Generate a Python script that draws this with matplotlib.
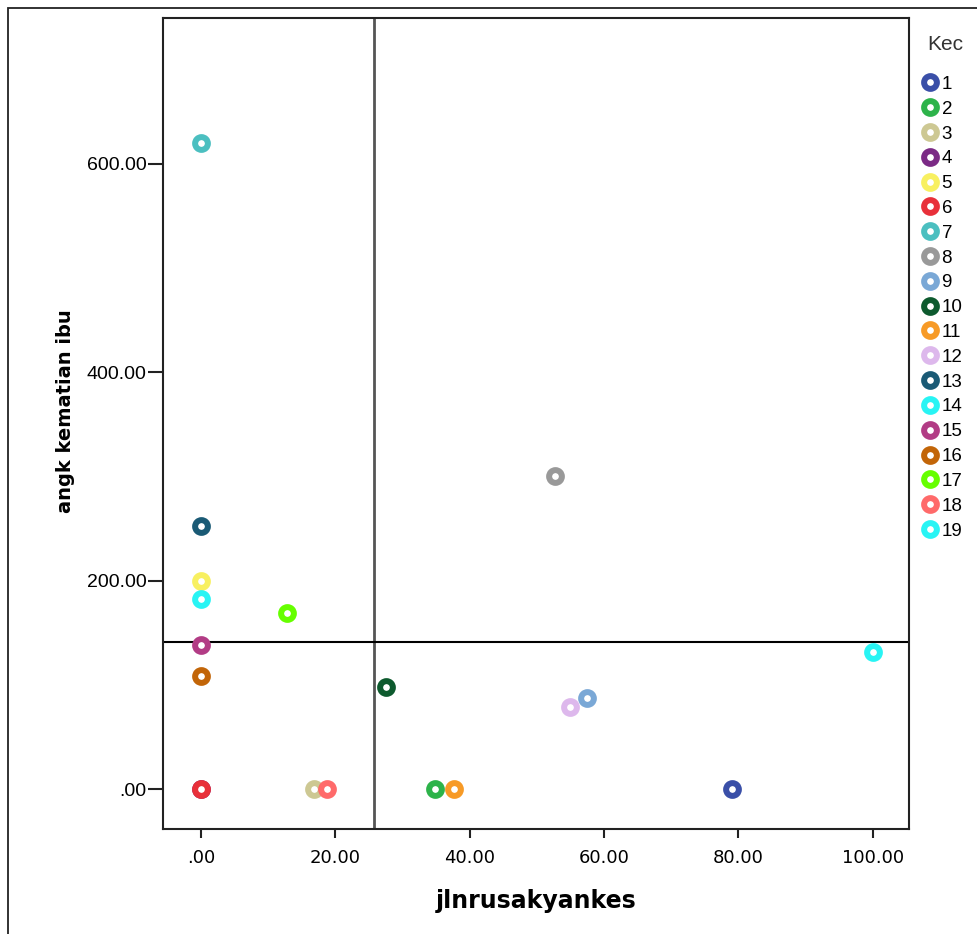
import matplotlib.pyplot as plt
from matplotlib.lines import Line2D
from matplotlib.patches import Rectangle

kec = [str(i) for i in range(1, 20)]
jlnrusak = [79.1, 34.9, 16.8, 0, 0, 0, 0, 52.7, 57.5, 27.6, 37.6, 54.9, 0, 0, 0, 0, 12.75, 18.7, 100]
angk_kematian = [0, 0, 0, 0, 200, 0, 620, 300, 87.7, 97.6, 0, 78.4, 252.5, 182.7, 138.4, 108.5, 168.6, 0, 131.5]
warna = ['#3a4fa8', '#2db34a', '#cdc893', '#7b2a85', '#f8f060', '#e8303a', '#4bbfc0',
         '#999999', '#7aa8d6', '#0d5a2e', '#f79a26', '#ddb8ec', '#1a5a75', '#28f4f4',
         '#b23c85', '#c26508', '#66ff00', '#ff6a6a', '#28f4f4']
x_ref = 25.8
y_ref = 140.8

plt.rcParams['font.family'] = ['Liberation Sans', 'DejaVu Sans']

fig = plt.figure(figsize=(9.77, 9.34), dpi=100)
ax = fig.add_axes([0.1668, 0.1124, 0.7636, 0.8683])

# frame around the whole chart
fig.patches.append(Rectangle((8 / 977, -0.1), 1.2, 1.1 - 8 / 934, transform=fig.transFigure,
                             fill=False, edgecolor='#222222', linewidth=1.3))

ms, mew = 9.2, 4.3
for i in range(len(kec)):
    ax.plot(jlnrusak[i], angk_kematian[i], 'o', markersize=ms, markeredgewidth=mew,
            markerfacecolor='white', markeredgecolor=warna[i], zorder=3)

ax.axvline(x_ref, color='#555555', linewidth=2, zorder=2)
ax.axhline(y_ref, color='black', linewidth=1.5, zorder=2)

ax.set_xlim(-5.65, 105.4)
ax.set_ylim(-38.4, 740)
ax.set_xticks([0, 20, 40, 60, 80, 100])
ax.set_xticklabels(['.00', '20.00', '40.00', '60.00', '80.00', '100.00'],
                   family=['DejaVu Sans'], fontsize=13)
ax.set_yticks([0, 200, 400, 600])
ax.set_yticklabels(['.00', '200.00', '400.00', '600.00'], fontsize=14)
ax.tick_params(axis='x', direction='out', length=6.5, width=1.5, color='#222222', pad=8)
ax.tick_params(axis='y', direction='out', length=11, width=1.5, color='#222222', pad=1)
for s in ax.spines.values():
    s.set_linewidth(1.5)
    s.set_color('#222222')

ax.set_xlabel('jlnrusakyankes', family=['DejaVu Sans'], fontweight='bold', fontsize=17, labelpad=16)
ax.set_ylabel('angk kematian ibu', family=['DejaVu Sans'], fontweight='bold', fontsize=14)
ax.yaxis.set_label_coords(-0.118, 0.515)

handles = [Line2D([], [], linestyle='none', marker='o', markersize=ms, markeredgewidth=mew,
                  markerfacecolor='white', markeredgecolor=warna[i]) for i in range(len(kec))]
leg = ax.legend(handles, kec, loc='upper left', bbox_to_anchor=(1.008, 0.938),
                frameon=False, fontsize=13.5, handlelength=0.8,
                handletextpad=0.22, labelspacing=0.41, borderaxespad=0.0)
fig.text(945 / 977, 1 - 45 / 934, 'Kec', fontsize=15, ha='center', va='center', color='#333333')

fig.savefig('out.png', dpi=100)
